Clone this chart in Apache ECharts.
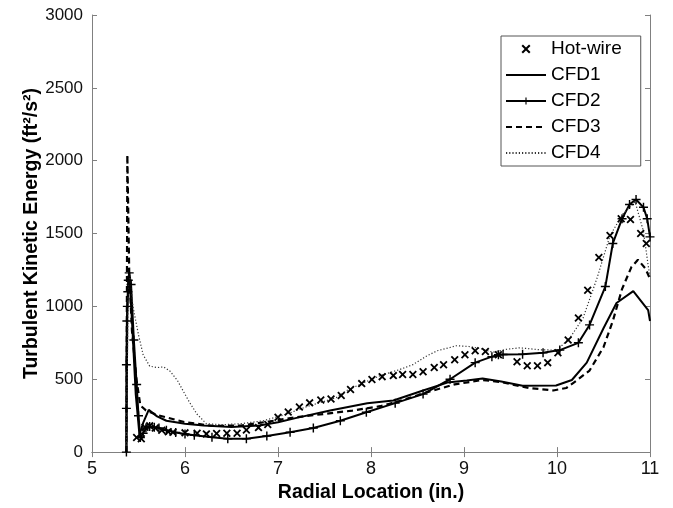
<!DOCTYPE html>
<html>
<head>
<meta charset="utf-8">
<script src="https://cdn.jsdelivr.net/npm/echarts@6/dist/echarts.min.js"></script>
<style>
html,body{margin:0;padding:0;background:#fff;}
#chart{width:673px;height:508px;}
</style>
</head>
<body>
<div id="chart"></div>
<script>
// Radial location (in.) / turbulent kinetic energy (ft^2/s^2) pairs
const hotWire = [[5.48,100],[5.53,91],[5.57,170],[5.62,180],[5.68,165],[5.75,150],[5.82,140],[5.87,136],[6.0,132],[6.13,130],[6.23,125],[6.34,128],[6.45,130],[6.56,130],[6.66,152],[6.79,168],[6.89,190],[7.0,239],[7.11,275],[7.23,310],[7.34,338],[7.46,357],[7.57,365],[7.68,388],[7.78,430],[7.9,470],[8.01,498],[8.12,518],[8.24,525],[8.34,532],[8.45,532],[8.56,552],[8.68,580],[8.78,600],[8.9,634],[9.01,668],[9.12,695],[9.23,690],[9.37,668],[9.57,620],[9.68,593],[9.79,593],[9.9,614],[10.01,682],[10.12,770],[10.23,920],[10.33,1111],[10.45,1336],[10.57,1486],[10.69,1602],[10.79,1597],[10.9,1500],[10.96,1432]];

const cfd1 = [[5.37,0],[5.38,1000],[5.40,1230],[5.43,900],[5.47,400],[5.51,120],[5.55,200],[5.61,290],[5.7,245],[5.8,215],[6.0,195],[6.2,182],[6.5,172],[6.8,182],[7.0,205],[7.2,235],[7.56,286],[7.96,336],[8.24,354],[8.56,423],[8.82,477],[9.03,491],[9.2,505],[9.4,485],[9.63,456],[9.99,457],[10.16,495],[10.32,614],[10.5,850],[10.64,1023],[10.82,1105],[10.98,975],[11.0,900]];

const cfd2 = [[5.37,0],[5.37,300],[5.37,600],[5.375,900],[5.38,1000],[5.385,1100],[5.39,1180],[5.40,1230],[5.42,1150],[5.45,770],[5.48,464],[5.5,250],[5.52,100],[5.55,130],[5.58,165],[5.62,175],[5.67,170],[5.72,165],[5.8,150],[5.9,135],[6.0,125],[6.1,115],[6.29,102],[6.46,91],[6.66,91],[6.88,110],[7.13,136],[7.38,165],[7.67,215],[7.95,273],[8.26,336],[8.56,398],[8.85,500],[9.12,614],[9.3,655],[9.37,668],[9.42,670],[9.63,672],[9.85,682],[10.03,700],[10.23,750],[10.35,873],[10.52,1136],[10.6,1432],[10.7,1602],[10.78,1700],[10.85,1734],[10.93,1680],[10.97,1602],[11.0,1477]];

const cfd3 = [[5.37,0],[5.38,2040],[5.40,1240],[5.43,830],[5.48,490],[5.52,320],[5.58,286],[5.7,255],[6.0,205],[6.3,180],[6.6,182],[6.9,210],[7.2,240],[7.5,262],[7.8,285],[8.1,315],[8.3,350],[8.6,410],[8.9,465],[9.2,495],[9.4,480],[9.7,440],[9.96,423],[10.1,440],[10.21,491],[10.35,560],[10.5,720],[10.6,900],[10.7,1120],[10.8,1270],[10.87,1320],[10.95,1261],[11.0,1190]];

const cfd4 = [[5.37,0],[5.39,1180],[5.41,1210],[5.44,1000],[5.5,805],[5.55,668],[5.62,590],[5.7,580],[5.77,585],[5.84,555],[5.92,490],[5.98,420],[6.05,340],[6.13,260],[6.23,195],[6.4,188],[6.6,195],[6.84,215],[7.09,260],[7.3,310],[7.48,345],[7.63,375],[7.74,423],[7.9,470],[8.1,525],[8.3,565],[8.45,600],[8.6,660],[8.71,695],[8.92,730],[9.05,725],[9.17,712],[9.31,685],[9.45,705],[9.6,716],[9.82,702],[10.0,700],[10.14,784],[10.28,920],[10.43,1193],[10.57,1486],[10.71,1636],[10.84,1718],[10.93,1514],[10.98,1282],[11.0,1200]];

const xTicks = [5,6,7,8,9,10,11];
const yTicks = [0,500,1000,1500,2000,2500,3000];
const seriesNames = ['Hot-wire','CFD1','CFD2','CFD3','CFD4'];

const xSym = 'path://M1.6,0 L5,3.4 L8.4,0 L10,1.6 L6.6,5 L10,8.4 L8.4,10 L5,6.6 L1.6,10 L0,8.4 L3.4,5 L0,1.6 Z';
const plusSym = 'path://M4.2,0 H5.8 V4.2 H10 V5.8 H5.8 V10 H4.2 V5.8 H0 V4.2 H4.2 Z';

const axisGrey = '#808080';
const font = 'Liberation Sans, Arial, sans-serif';

const chart = echarts.init(document.getElementById('chart'), null, {renderer:'canvas'});
const baseX = {
  type:'value', min:xTicks[0], max:xTicks[xTicks.length-1], interval:1,
  splitLine:{show:false},
  axisLine:{show:true, lineStyle:{color:axisGrey, width:1}},
  axisTick:{show:true, inside:true, length:5, lineStyle:{color:axisGrey}}
};
const baseY = {
  type:'value', min:yTicks[0], max:yTicks[yTicks.length-1], interval:500,
  splitLine:{show:false},
  axisLine:{show:true, lineStyle:{color:axisGrey, width:1}},
  axisTick:{show:true, inside:true, length:5, lineStyle:{color:axisGrey}}
};
const hideSym = {itemStyle:{opacity:0}};

chart.setOption({
  backgroundColor:'#fff',
  animation:false,
  grid:{left:92, right:23, top:15, bottom:53, containLabel:false},
  xAxis:[
    Object.assign({}, baseX, {
      position:'bottom',
      name:'Radial Location (in.)', nameLocation:'middle', nameGap:28,
      nameTextStyle:{fontFamily:font, fontSize:19.5, fontWeight:'bold', color:'#000'},
      axisLabel:{fontFamily:font, fontSize:18, color:'#111', margin:8, formatter:v => String(v)}
    }),
    Object.assign({}, baseX, {position:'top', axisLabel:{show:false}})
  ],
  yAxis:[
    Object.assign({}, baseY, {
      position:'left',
      name:'Turbulent Kinetic Energy (ft²/s²)', nameLocation:'middle', nameGap:50,
      nameMoveOverlap:false,
      nameTextStyle:{fontFamily:font, fontSize:19.5, fontWeight:'bold', color:'#000'},
      axisLabel:{fontFamily:font, fontSize:17, color:'#111', margin:9, formatter:v => String(v)}
    }),
    Object.assign({}, baseY, {position:'right', axisLabel:{show:false}})
  ],
  legend:{
    orient:'vertical', left:501, top:36,
    data:[
      {name:seriesNames[0]},
      Object.assign({name:seriesNames[1]}, hideSym),
      {name:seriesNames[2]},
      Object.assign({name:seriesNames[3]}, hideSym),
      Object.assign({name:seriesNames[4]}, hideSym)
    ],
    itemWidth:40, itemHeight:9, itemGap:4,
    padding:[2,19,2,4],
    borderColor:'#555', borderWidth:1, backgroundColor:'#fff',
    textStyle:{fontFamily:font, fontSize:19, color:'#000', lineHeight:22}
  },
  series:[
    {name:seriesNames[0], type:'scatter', data:hotWire, symbol:xSym, symbolSize:8,
     itemStyle:{color:'#000', opacity:1}, z:5},
    {name:seriesNames[1], type:'line', data:cfd1, symbol:'none',
     lineStyle:{color:'#000', width:2}, itemStyle:{color:'#000'}},
    {name:seriesNames[2], type:'line', data:cfd2, symbol:plusSym, symbolSize:9, showAllSymbol:true,
     lineStyle:{color:'#000', width:2}, itemStyle:{color:'#000'}},
    {name:seriesNames[3], type:'line', data:cfd3, symbol:'none',
     lineStyle:{color:'#000', width:2.2, type:[6,4]}, itemStyle:{color:'#000'}},
    {name:seriesNames[4], type:'line', data:cfd4, symbol:'none',
     lineStyle:{color:'#333', width:1.2, type:[1.2,2]}, itemStyle:{color:'#333'}}
  ]
});
</script>
</body>
</html>
